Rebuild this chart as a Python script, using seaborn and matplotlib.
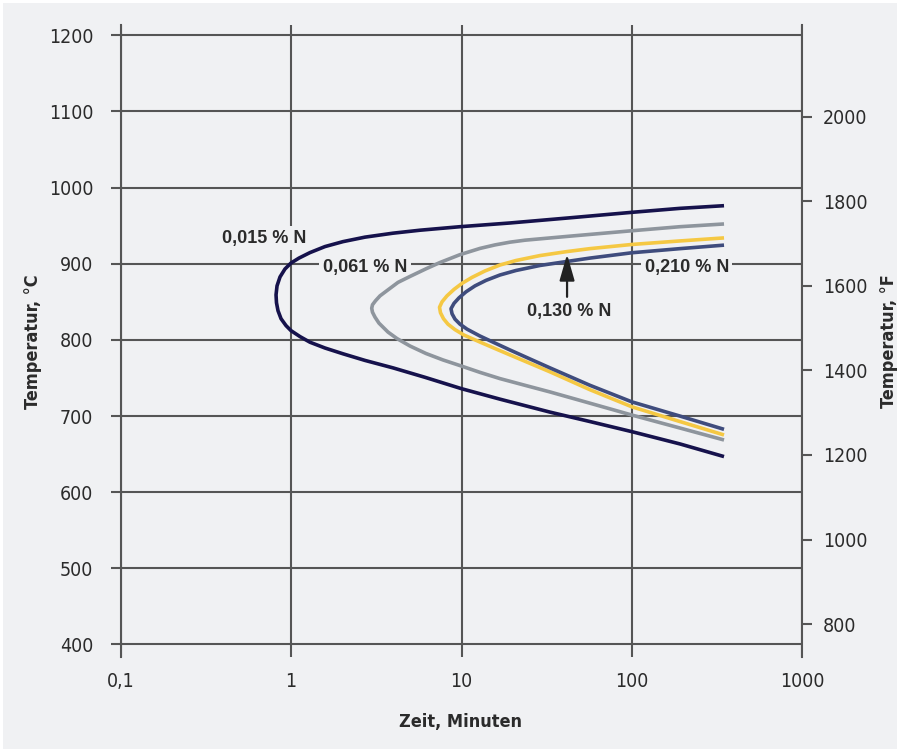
import matplotlib
matplotlib.use("Agg")
import matplotlib.pyplot as plt
from matplotlib import font_manager
from matplotlib.patches import Rectangle
from matplotlib.ticker import FixedLocator, FixedFormatter, NullLocator
import pandas as pd
import seaborn as sns

# ---- data: time-temperature curves for nitride precipitation ----
# each curve runs from the upper branch end, round the nose, to the lower branch end
series_names = ["0,015 % N", "0,061 % N", "0,130 % N", "0,210 % N"]

time_015 = [346.5, 191.2, 100, 43.3, 19.25, 9.80, 5.71, 3.966, 2.716, 2.018,
            1.582, 1.292, 1.114, 1.0, 0.922, 0.862, 0.828, 0.817, 0.822, 0.839,
            0.874, 0.935, 1.0, 1.129, 1.292, 1.582, 2.018, 2.716, 3.966, 6.11,
            10.03, 16.82, 33.04, 56.7, 100, 191.2, 346.5]
temp_015 = [976.2, 972.7, 967.5, 960.3, 953.5, 948.6, 944.0, 940.1, 934.9, 929.0,
            922.5, 914.6, 907.4, 900.9, 893.1, 882.6, 870.9, 859.1, 848.7, 838.3,
            827.8, 818.7, 812.1, 804.3, 796.9, 789.3, 781.7, 773.0, 763.2, 750.8,
            735.8, 722.1, 705.1, 692.7, 679.4, 663.3, 646.7]

time_061 = [346.5, 191.2, 100, 43.3, 23.58, 19.25, 15.72, 12.84, 9.80, 7.48,
            6.19, 4.99, 4.243, 3.707, 3.327, 3.130, 3.006, 2.974, 3.006, 3.110,
            3.282, 3.707, 4.185, 4.99, 6.19, 7.79, 9.93, 12.84, 16.82, 23.58,
            33.04, 56.7, 100, 191.2, 346.5]
temp_061 = [952.2, 948.6, 943.3, 936.2, 930.9, 928.3, 924.7, 920.1, 911.9, 901.6,
            893.3, 883.3, 875.5, 865.7, 857.8, 851.3, 846.1, 841.5, 836.3, 829.8,
            821.9, 810.2, 801.7, 791.9, 782.1, 773.6, 765.8, 757.3, 749.1, 740.3,
            731.6, 716.8, 701.2, 684.2, 668.5]

time_130 = [346.5, 191.2, 100, 56.7, 41.4, 28.87, 20.87, 16.82, 13.73, 11.52,
            10.07, 9.04, 8.22, 7.69, 7.43, 7.53, 7.84, 8.33, 9.16, 10.34,
            12.84, 15.72, 19.25, 25.22, 33.04, 56.7, 100, 191.2, 346.5]
temp_130 = [933.9, 929.9, 925.3, 919.8, 915.9, 910.7, 904.2, 898.3, 890.5, 882.0,
            874.2, 866.3, 857.8, 850.0, 842.8, 835.6, 827.8, 820.6, 813.4, 806.3,
            797.1, 788.6, 780.2, 769.1, 758.0, 734.5, 712.0, 692.7, 675.1]

time_210 = [346.5, 191.2, 100, 56.7, 41.4, 28.87, 20.87, 16.82, 13.92, 12.0,
            10.63, 9.67, 9.04, 8.68, 8.80, 9.16, 9.80, 10.77, 12.84, 15.72,
            19.25, 25.22, 33.04, 56.7, 100, 191.2, 346.5]
temp_210 = [924.4, 919.8, 914.4, 907.4, 902.9, 897.7, 891.1, 885.2, 878.1, 870.9,
            863.1, 855.2, 848.0, 840.9, 834.3, 827.2, 820.6, 814.1, 805.0, 795.8,
            786.7, 774.9, 763.2, 740.3, 718.5, 699.9, 682.5]

x_ticks = [0.1, 1, 10, 100, 1000]
x_tick_labels = ["0,1", "1", "10", "100", "1000"]
c_ticks = [400, 500, 600, 700, 800, 900, 1000, 1100, 1200]
f_ticks = [800, 1000, 1200, 1400, 1600, 1800, 2000]

# label anchor positions (time, temperature)
label_time = [0.695, 2.72, 43.1, 209.4]
label_temp = [933.5, 894.4, 837.3, 894.8]
arrow_time = 41.6
arrow_tail_temp = 856.5
arrow_tip_temp = 912.3

# ---- styling ----
BG = "#f0f1f3"
GRID = "#555555"
TXT = "#2b2b2b"
palette = {
    "0,015 % N": "#16124c",
    "0,061 % N": "#8e959d",
    "0,130 % N": "#f5c843",
    "0,210 % N": "#3f4c7d",
}

sns.set_theme(style="white")

available = {f.name for f in font_manager.fontManager.ttflist}
if "Liberation Sans Narrow" in available:
    NARROW = dict(family="Liberation Sans Narrow")
else:
    NARROW = dict(family="DejaVu Sans", stretch="condensed")
plt.rcParams["font.family"] = ["Liberation Sans", "DejaVu Sans"]

frames = []
for name, t, c in zip(series_names,
                      [time_015, time_061, time_130, time_210],
                      [temp_015, temp_061, temp_130, temp_210]):
    frames.append(pd.DataFrame({"time": t, "temp": c, "curve": name}))
df = pd.concat(frames, ignore_index=True)

fig = plt.figure(figsize=(9.06, 7.51), dpi=100, facecolor="white")
fig.patches.append(Rectangle((3 / 906, 2 / 751), 894 / 906, 746 / 751,
                             transform=fig.transFigure, facecolor=BG,
                             edgecolor="none", zorder=-10))

ax = fig.add_axes([120.5 / 906, 1 - 657 / 751, 682 / 906, 632 / 751])
ax.set_facecolor("none")
ax.set_xscale("log")

for name in series_names:
    sns.lineplot(data=df[df["curve"] == name], x="time", y="temp",
                 sort=False, estimator=None, color=palette[name],
                 linewidth=2.6, ax=ax, zorder=4,
                 solid_capstyle="butt", solid_joinstyle="round")

ax.set_xlim(0.1, 1000)
ax.set_ylim(383.5, 1213.5)

ax.xaxis.set_major_locator(FixedLocator(x_ticks))
ax.xaxis.set_major_formatter(FixedFormatter(x_tick_labels))
ax.xaxis.set_minor_locator(NullLocator())
ax.yaxis.set_major_locator(FixedLocator(c_ticks))
ax.yaxis.set_minor_locator(NullLocator())

ax.grid(True, which="major", color=GRID, linewidth=1.5, zorder=1)
ax.set_axisbelow(True)

for side in ["top", "bottom"]:
    ax.spines[side].set_visible(False)
for side in ["left", "right"]:
    ax.spines[side].set_color(GRID)
    ax.spines[side].set_linewidth(1.5)

tick_font = font_manager.FontProperties(size=14, **NARROW)
ax.tick_params(axis="x", length=0, pad=11, labelcolor=TXT)
ax.tick_params(axis="y", left=True, length=7.5, width=1.5, color=GRID,
               pad=12, labelcolor=TXT)
for lab in ax.get_xticklabels() + ax.get_yticklabels():
    lab.set_fontproperties(tick_font)

ax.set_xlabel("")
ax.set_ylabel("")

# Fahrenheit scale on the right
ax2 = ax.twinx()
lo, hi = ax.get_ylim()
ax2.set_ylim(lo * 9 / 5 + 32, hi * 9 / 5 + 32)
ax2.yaxis.set_major_locator(FixedLocator(f_ticks))
ax2.yaxis.set_minor_locator(NullLocator())
for side in ax2.spines:
    ax2.spines[side].set_visible(False)
ax2.grid(False)
ax2.tick_params(axis="y", right=True, length=7.5, width=1.5, color=GRID,
                pad=7, labelcolor=TXT)
for lab in ax2.get_yticklabels():
    lab.set_fontproperties(tick_font)

# curve labels
for name, t, c in zip(series_names, label_time, label_temp):
    ax.text(t, c, name, ha="center", va="center", fontsize=13,
            fontweight="bold", color=TXT, zorder=3,
            family=["Liberation Sans", "DejaVu Sans"],
            bbox=dict(facecolor=BG, edgecolor="none", pad=2.5))

ax.annotate("", xy=(arrow_time, arrow_tip_temp),
            xytext=(arrow_time, arrow_tail_temp),
            arrowprops=dict(arrowstyle="-|>,head_length=0.8,head_width=0.23",
                            mutation_scale=20, color="#222222", lw=1.6,
                            shrinkA=0, shrinkB=0), zorder=5)

# axis titles
label_font = font_manager.FontProperties(size=13, weight="bold", **NARROW)
fig.text(460 / 906, 1 - 721.5 / 751, "Zeit, Minuten", ha="center",
         va="center", color=TXT, fontproperties=label_font)
fig.text(33 / 906, 1 - 341.5 / 751, "Temperatur, °C", ha="center",
         va="center", rotation=90, color=TXT, fontproperties=label_font)
fig.text(889 / 906, 1 - 341.5 / 751, "Temperatur, °F", ha="center",
         va="center", rotation=90, color=TXT, fontproperties=label_font)

fig.savefig("out.png", dpi=100, facecolor="white")
